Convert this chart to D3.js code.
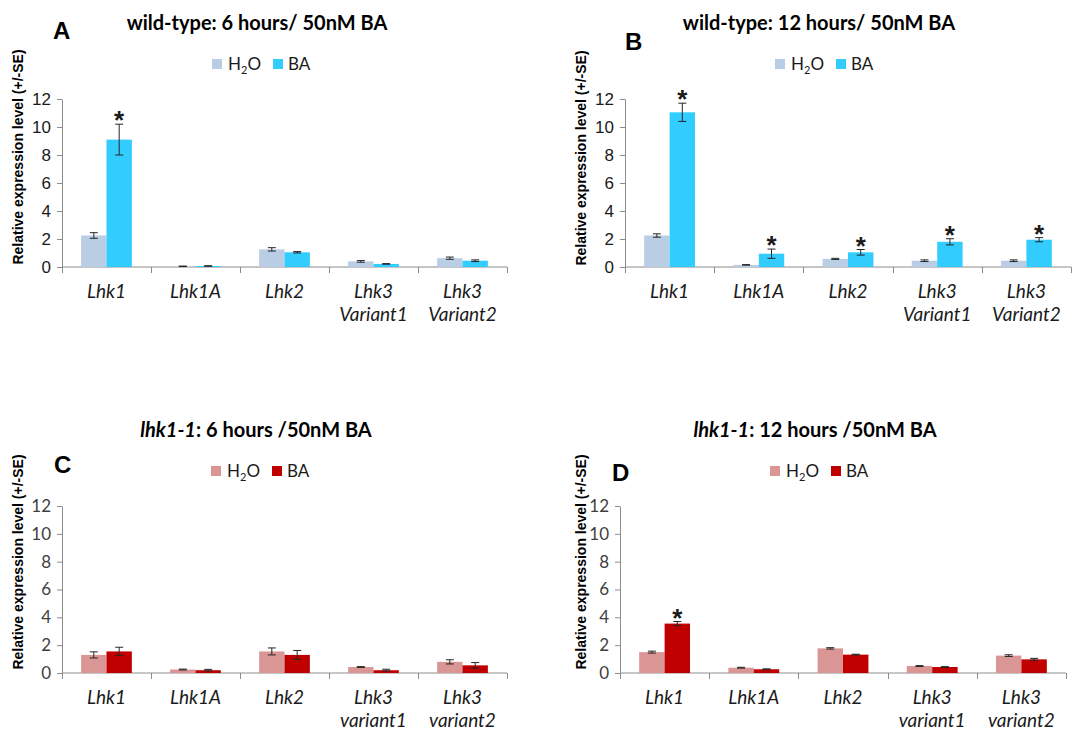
<!DOCTYPE html>
<html>
<head>
<meta charset="utf-8">
<script src="https://cdn.jsdelivr.net/npm/d3@7"></script>
<style>
  html, body { margin: 0; padding: 0; background: #fff; }
  svg { display: block; }
</style>
</head>
<body>
<svg id="fig" width="1076" height="731"></svg>
<script>
// ---- data ----
const categoriesWT = [["Lhk1"], ["Lhk1A"], ["Lhk2"], ["Lhk3", "Variant1"], ["Lhk3", "Variant2"]];
const categoriesMut = [["Lhk1"], ["Lhk1A"], ["Lhk2"], ["Lhk3", "variant1"], ["Lhk3", "variant2"]];
const seriesNames = ["H2O", "BA"];
const yTicks = [0, 2, 4, 6, 8, 10, 12];

// wild-type, 6 h
const wt6H2O = [2.25, 0.05, 1.26, 0.40, 0.63];
const wt6H2OErr = [0.20, 0.02, 0.12, 0.06, 0.08];
const wt6BA = [9.1, 0.07, 1.05, 0.22, 0.45];
const wt6BAErr = [1.1, 0.02, 0.05, 0.02, 0.06];
const wt6Sig = [true, false, false, false, false];

// wild-type, 12 h
const wt12H2O = [2.25, 0.15, 0.58, 0.45, 0.45];
const wt12H2OErr = [0.12, 0.02, 0.04, 0.06, 0.06];
const wt12BA = [11.05, 0.95, 1.05, 1.8, 1.95];
const wt12BAErr = [0.65, 0.33, 0.20, 0.22, 0.15];
const wt12Sig = [true, true, true, true, true];

// lhk1-1, 6 h
const mut6H2O = [1.3, 0.25, 1.55, 0.43, 0.8];
const mut6H2OErr = [0.22, 0.03, 0.25, 0.03, 0.15];
const mut6BA = [1.55, 0.2, 1.3, 0.2, 0.55];
const mut6BAErr = [0.30, 0.06, 0.32, 0.07, 0.20];
const mut6Sig = [false, false, false, false, false];

// lhk1-1, 12 h
const mut12H2O = [1.5, 0.38, 1.77, 0.5, 1.25];
const mut12H2OErr = [0.07, 0.03, 0.05, 0.03, 0.06];
const mut12BA = [3.55, 0.27, 1.32, 0.43, 0.98];
const mut12BAErr = [0.15, 0.03, 0.03, 0.03, 0.07];
const mut12Sig = [true, false, false, false, false];

// ---- panel layout ----
const blue = ["#b9cde5", "#33ccff"];
const red = ["#d99694", "#c00000"];

const panels = [
  { letter: "A", title: [["wild-type: 6 hours/ 50nM BA", false]], cats: categoriesWT,
    h2o: wt6H2O, h2oErr: wt6H2OErr, ba: wt6BA, baErr: wt6BAErr, sig: wt6Sig, colors: blue,
    x0: 62, x1: 507, yTop: 99, yBot: 267, titleX: 257, titleY: 30, letterX: 53, letterY: 39,
    legendX: 212, legendY: 64, ylabelX: 23, ylabelY: 157,
    tickFont: "'Liberation Sans', Arial, sans-serif", tickColor: "#1a1a1a" },
  { letter: "B", title: [["wild-type: 12 hours/ 50nM BA", false]], cats: categoriesWT,
    h2o: wt12H2O, h2oErr: wt12H2OErr, ba: wt12BA, baErr: wt12BAErr, sig: wt12Sig, colors: blue,
    x0: 625, x1: 1071, yTop: 99, yBot: 267, titleX: 819, titleY: 30, letterX: 625, letterY: 50,
    legendX: 775, legendY: 64, ylabelX: 586, ylabelY: 158,
    tickFont: "'Liberation Sans', Arial, sans-serif", tickColor: "#1a1a1a" },
  { letter: "C", title: [["lhk1-1", true], [": 6 hours /50nM BA", false]], cats: categoriesMut,
    h2o: mut6H2O, h2oErr: mut6H2OErr, ba: mut6BA, baErr: mut6BAErr, sig: mut6Sig, colors: red,
    x0: 62, x1: 507, yTop: 506, yBot: 673, titleX: 256, titleY: 437, letterX: 54, letterY: 473,
    legendX: 211, legendY: 471, ylabelX: 23, ylabelY: 562,
    tickFont: "Lato, 'Open Sans', sans-serif", tickColor: "#404040" },
  { letter: "D", title: [["lhk1-1", true], [": 12 hours /50nM BA", false]], cats: categoriesMut,
    h2o: mut12H2O, h2oErr: mut12H2OErr, ba: mut12BA, baErr: mut12BAErr, sig: mut12Sig, colors: red,
    x0: 620, x1: 1066, yTop: 506, yBot: 673, titleX: 815, titleY: 437, letterX: 612, letterY: 481,
    legendX: 770, legendY: 471, ylabelX: 586, ylabelY: 562,
    tickFont: "Lato, 'Open Sans', sans-serif", tickColor: "#404040" }
];

const svg = d3.select("#fig");
const axisColor = "#8c8c8c";
const labelFont = "Lato, 'Open Sans', sans-serif";

panels.forEach(p => {
  const g = svg.append("g");
  const catKeys = p.cats.map(c => c.join(" "));

  const x = d3.scaleBand().domain(catKeys).range([p.x0, p.x1]).paddingInner(0).paddingOuter(0);
  const bw = x.bandwidth();
  const gap = bw * 0.215;
  const xs = d3.scaleBand().domain(seriesNames).range([gap, bw - gap]).padding(0);
  const y = d3.scaleLinear().domain([0, 12]).range([p.yBot, p.yTop]);

  // title
  const t = g.append("text")
    .attr("x", p.titleX).attr("y", p.titleY)
    .attr("text-anchor", "middle")
    .attr("font-family", labelFont).attr("font-weight", "bold")
    .attr("font-size", 20).attr("fill", "#000");
  p.title.forEach(([s, it]) => t.append("tspan").attr("font-style", it ? "italic" : "normal").text(s));

  // panel letter
  g.append("text").attr("x", p.letterX).attr("y", p.letterY)
    .attr("font-family", "'Liberation Sans', Arial, sans-serif").attr("font-weight", "bold")
    .attr("font-size", 24).text(p.letter);

  // legend
  const lg = g.append("g").attr("transform", `translate(${p.legendX},${p.legendY})`);
  lg.append("rect").attr("x", 0).attr("y", -5).attr("width", 10).attr("height", 10).attr("fill", p.colors[0]);
  const lt = lg.append("text").attr("x", 16).attr("y", 6)
    .attr("font-family", labelFont).attr("font-size", 17).attr("fill", "#1a1a1a");
  lt.append("tspan").text("H");
  lt.append("tspan").attr("font-size", 11).attr("dy", 4).text("2");
  lt.append("tspan").attr("dy", -4).text("O");
  lg.append("rect").attr("x", 61).attr("y", -5).attr("width", 10).attr("height", 10).attr("fill", p.colors[1]);
  lg.append("text").attr("x", 76).attr("y", 6)
    .attr("font-family", labelFont).attr("font-size", 17).attr("fill", "#1a1a1a").text("BA");

  // y axis label
  g.append("text")
    .attr("transform", `translate(${p.ylabelX},${p.ylabelY}) rotate(-90)`)
    .attr("text-anchor", "middle")
    .attr("font-family", "'Liberation Sans', Arial, sans-serif").attr("font-weight", "bold")
    .attr("font-size", 14).attr("fill", "#000")
    .text("Relative expression level (+/-SE)");

  // y axis
  const ya = g.append("g").attr("transform", `translate(${p.x0},0)`)
    .call(d3.axisLeft(y).tickValues(yTicks).tickSize(5).tickSizeOuter(0).tickPadding(6));
  ya.select(".domain").attr("stroke", axisColor);
  ya.selectAll(".tick line").attr("stroke", axisColor);
  ya.selectAll(".tick text").attr("font-family", p.tickFont).attr("font-size", 17).attr("fill", p.tickColor);

  // x axis line with ticks at category boundaries
  const xa = g.append("g");
  xa.append("line").attr("x1", p.x0).attr("x2", p.x1).attr("y1", p.yBot).attr("y2", p.yBot)
    .attr("stroke", axisColor);
  const bounds = catKeys.map(k => x(k)).concat([p.x1]);
  xa.selectAll("line.b").data(bounds).join("line").attr("class", "b")
    .attr("x1", d => Math.round(d) + 0.5).attr("x2", d => Math.round(d) + 0.5)
    .attr("y1", p.yBot).attr("y2", p.yBot + 6).attr("stroke", axisColor);

  // category labels
  p.cats.forEach((lines, i) => {
    const cx = x(catKeys[i]) + bw / 2;
    lines.forEach((s, j) => {
      g.append("text").attr("x", cx).attr("y", p.yBot + 31 + j * 23)
        .attr("text-anchor", "middle").attr("font-family", labelFont)
        .attr("font-style", "italic").attr("font-size", 19).attr("fill", "#1a1a1a").text(s);
    });
  });

  // bars
  const rows = catKeys.map((k, i) => ({
    k,
    vals: [
      { s: seriesNames[0], v: p.h2o[i], e: p.h2oErr[i], c: p.colors[0], sig: false },
      { s: seriesNames[1], v: p.ba[i], e: p.baErr[i], c: p.colors[1], sig: p.sig[i] }
    ]
  }));
  const grp = g.selectAll("g.cat").data(rows).join("g").attr("class", "cat")
    .attr("transform", d => `translate(${x(d.k)},0)`);
  grp.selectAll("rect").data(d => d.vals).join("rect")
    .attr("x", d => xs(d.s)).attr("width", xs.bandwidth())
    .attr("y", d => y(d.v)).attr("height", d => y(0) - y(d.v))
    .attr("fill", d => d.c);

  // error bars
  const eb = grp.selectAll("g.err").data(d => d.vals).join("g").attr("class", "err")
    .attr("transform", d => `translate(${xs(d.s) + xs.bandwidth() / 2},0)`)
    .attr("stroke", "#262626").attr("stroke-width", 1);
  eb.append("line").attr("x1", 0).attr("x2", 0).attr("y1", d => y(d.v + d.e)).attr("y2", d => y(d.v - d.e));
  eb.append("line").attr("x1", -4).attr("x2", 4).attr("y1", d => y(d.v + d.e)).attr("y2", d => y(d.v + d.e));
  eb.append("line").attr("x1", -4).attr("x2", 4).attr("y1", d => y(d.v - d.e)).attr("y2", d => y(d.v - d.e));

  // significance marks
  grp.selectAll("text.sig").data(d => d.vals.filter(v => v.sig)).join("text").attr("class", "sig")
    .attr("x", d => xs(d.s) + xs.bandwidth() / 2)
    .attr("y", d => y(d.v + d.e) + 5)
    .attr("text-anchor", "middle")
    .attr("font-family", "'Liberation Sans', Arial, sans-serif").attr("font-weight", "bold")
    .attr("font-size", 26).attr("fill", "#1a1a1a").text("*");
});
</script>
</body>
</html>
